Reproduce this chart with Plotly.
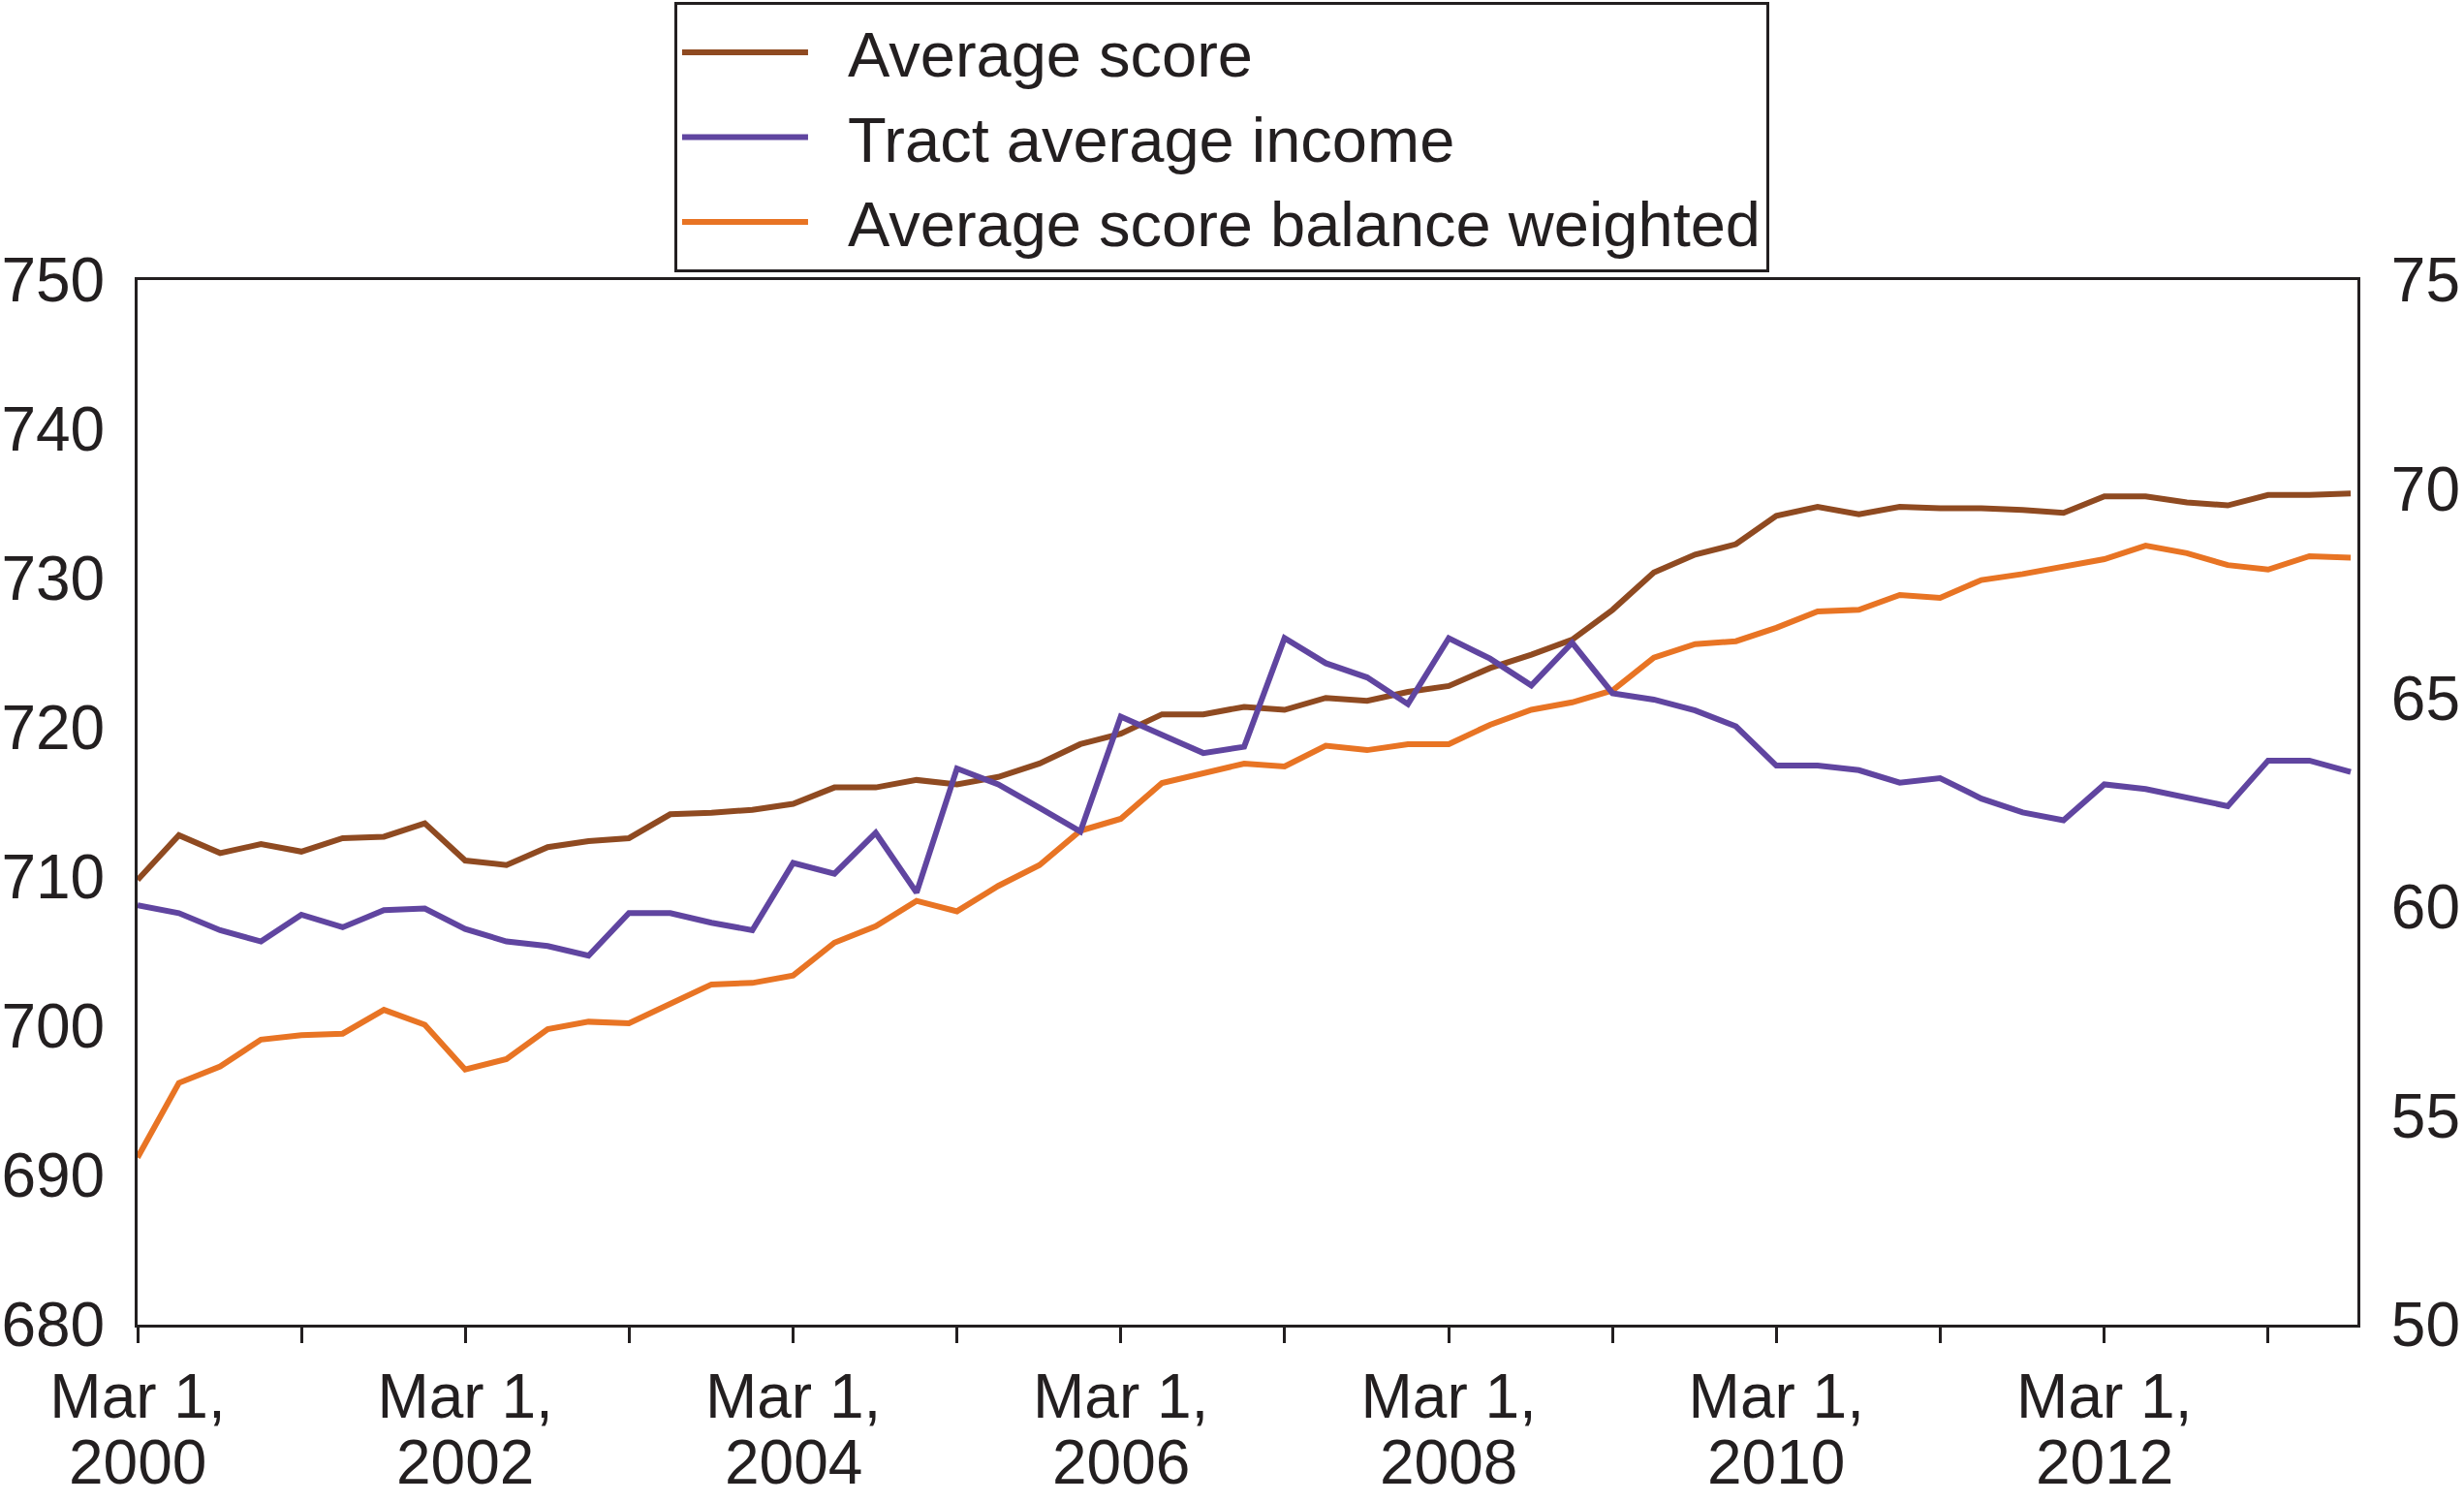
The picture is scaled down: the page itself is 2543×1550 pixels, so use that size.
import plotly.graph_objects as go
import pandas as pd

# Quarterly dates: Mar 2000 .. Sep 2013
dates = pd.date_range("2000-03-01", periods=55, freq="3MS").strftime("%Y-%m-%d").tolist()

average_score = [
    709.8, 712.8, 711.6, 712.2, 711.7, 712.6, 712.7, 713.6, 711.1, 710.8,
    712.0, 712.4, 712.6, 714.2, 714.3, 714.5, 714.9, 716.0, 716.0, 716.5,
    716.2, 716.7, 717.6, 718.9, 719.6, 720.9, 720.9, 721.4, 721.2, 722.0,
    721.8, 722.4, 722.8, 724.0, 724.9, 725.9, 727.9, 730.4, 731.6, 732.3,
    734.2, 734.8, 734.3, 734.8, 734.7, 734.7, 734.6, 734.4, 735.5, 735.5,
    735.1, 734.9, 735.6, 735.6, 735.7,
]

tract_average_income = [
    60.04, 59.85, 59.44, 59.17, 59.81, 59.51, 59.92, 59.96, 59.47, 59.17,
    59.06, 58.83, 59.85, 59.85, 59.62, 59.44, 61.05, 60.79, 61.77, 60.34,
    63.31, 62.93, 62.37, 61.80, 64.55, 64.10, 63.68, 63.83, 66.43, 65.83,
    65.49, 64.85, 66.43, 65.94, 65.30, 66.32, 65.11, 64.96, 64.70, 64.32,
    63.38, 63.38, 63.27, 62.97, 63.08, 62.59, 62.26, 62.07, 62.93, 62.82,
    62.63, 62.41, 63.50, 63.50, 63.23,
]

average_score_balance_weighted = [
    691.2, 696.2, 697.3, 699.1, 699.4, 699.5, 701.1, 700.1, 697.1, 697.8,
    699.8, 700.3, 700.2, 701.5, 702.8, 702.9, 703.4, 705.6, 706.7, 708.4,
    707.7, 709.4, 710.8, 713.1, 713.9, 716.3, 717.0, 717.6, 717.4, 718.8,
    718.5, 718.9, 718.9, 720.2, 721.2, 721.7, 722.5, 724.7, 725.6, 725.8,
    726.7, 727.8, 727.9, 728.9, 728.7, 729.9, 730.3, 730.8, 731.3, 732.2,
    731.7, 730.9, 730.6, 731.5, 731.4,
]

series_names = ["Average score", "Tract average income", "Average score balance weighted"]
series_colors = ["#8F4A21", "#6045A0", "#E87424"]

tick_years = list(range(2000, 2014))
tick_dates = [f"{y}-03-01" for y in tick_years]
tick_text = ["Mar 1," if y % 2 == 0 else "" for y in tick_years]
year_labels = [str(y) for y in tick_years if y % 2 == 0]
year_label_dates = [f"{y}-03-01" for y in tick_years if y % 2 == 0]

left_ticks = [680, 690, 700, 710, 720, 730, 740, 750]
right_ticks = [50, 55, 60, 65, 70, 75]

FONT = "Liberation Sans, Arial, Helvetica, sans-serif"
INK = "#231F20"
PAD = "\u00a0\u00a0"  # gap between legend swatch and legend text

fig = go.Figure()
fig.add_trace(go.Scatter(x=dates, y=average_score, name=PAD + series_names[0], mode="lines",
                         line=dict(color=series_colors[0], width=6), yaxis="y"))
fig.add_trace(go.Scatter(x=dates, y=tract_average_income, name=PAD + series_names[1], mode="lines",
                         line=dict(color=series_colors[1], width=6), yaxis="y2"))
fig.add_trace(go.Scatter(x=dates, y=average_score_balance_weighted, name=PAD + series_names[2], mode="lines",
                         line=dict(color=series_colors[2], width=6), yaxis="y"))

for d, t in zip(year_label_dates, year_labels):
    fig.add_annotation(x=d, xref="x", y=0, yref="paper", yanchor="top", text=t,
                       showarrow=False, yshift=-104, font=dict(family=FONT, size=64, color=INK))

fig.update_layout(
    width=2543, height=1550,
    margin=dict(l=142, r=110, t=289, b=183, autoexpand=False),
    paper_bgcolor="white", plot_bgcolor="white",
    font=dict(family=FONT, size=64, color=INK),
    showlegend=True,
    legend=dict(x=0.2418, y=1.266, xanchor="left", yanchor="top",
                bgcolor="white", bordercolor=INK, borderwidth=3,
                font=dict(family=FONT, size=65, color=INK),
                itemwidth=130, tracegroupgap=0),
    xaxis=dict(type="date", range=["2000-03-01", "2013-09-16"],
               tickmode="array", tickvals=tick_dates, ticktext=tick_text,
               ticks="outside", ticklen=16, tickwidth=3, tickcolor=INK,
               showline=True, linecolor=INK, linewidth=3, mirror=True,
               showgrid=False, zeroline=False, ticklabelstandoff=0,
               automargin=False,
               tickfont=dict(family=FONT, size=64, color=INK)),
    yaxis=dict(range=[680, 750], tickmode="array", tickvals=left_ticks,
               ticks="", showline=True, linecolor=INK, linewidth=3,
               showgrid=False, zeroline=False, ticklabelstandoff=18,
               automargin=False,
               tickfont=dict(family=FONT, size=64, color=INK)),
    yaxis2=dict(range=[50, 75], tickmode="array", tickvals=right_ticks,
                overlaying="y", side="right", anchor="x",
                ticks="", showline=True, linecolor=INK, linewidth=3,
                showgrid=False, zeroline=False, ticklabelstandoff=19,
                automargin=False,
                tickfont=dict(family=FONT, size=64, color=INK)),
)

fig.write_html("out.html", config={"displayModeBar": False},
               post_script="document.body.style.margin='0';")
